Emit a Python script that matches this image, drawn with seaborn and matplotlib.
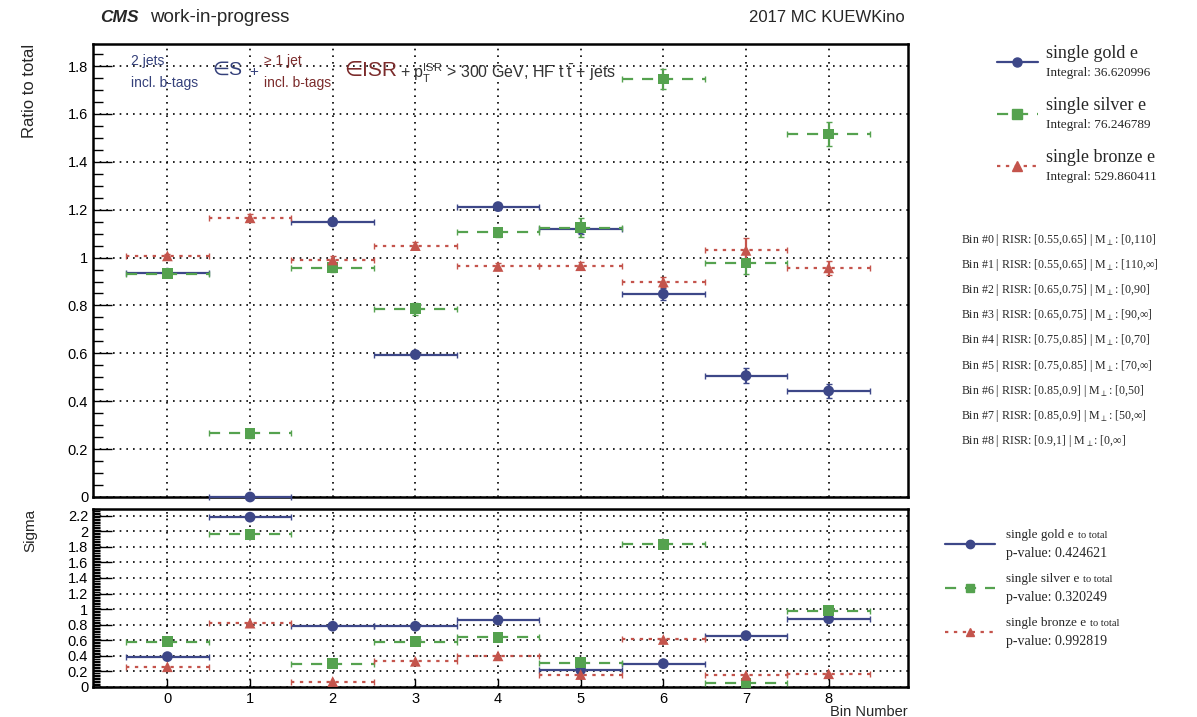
import numpy as np
import pandas as pd
import seaborn as sns
import matplotlib
matplotlib.use("Agg")
import matplotlib.pyplot as plt
from matplotlib.ticker import MultipleLocator, FuncFormatter
from matplotlib.lines import Line2D

# ---------------- data ----------------
bins = [0, 1, 2, 3, 4, 5, 6, 7, 8]
series_names = ["single gold e", "single silver e", "single bronze e"]
integrals = ["36.620996", "76.246789", "529.860411"]
pvalues = ["0.424621", "0.320249", "0.992819"]

ratio_gold = [0.935, 0.0, 1.149, 0.595, 1.213, 1.12, 0.848, 0.507, 0.443]
ratio_silver = [0.932, 0.266, 0.958, 0.786, 1.105, 1.125, 1.746, 0.977, 1.516]
ratio_bronze = [1.007, 1.166, 0.99, 1.05, 0.963, 0.966, 0.898, 1.03, 0.957]
err_gold = [0.01, 0.0, 0.015, 0.015, 0.015, 0.02, 0.025, 0.03, 0.03]
err_silver = [0.015, 0.02, 0.02, 0.025, 0.02, 0.04, 0.04, 0.045, 0.05]
err_bronze = [0.01, 0.015, 0.015, 0.015, 0.015, 0.015, 0.02, 0.05, 0.03]

sigma_gold = [0.39, 2.18, 0.78, 0.78, 0.86, 0.22, 0.30, 0.66, 0.875]
sigma_silver = [0.58, 1.96, 0.30, 0.58, 0.64, 0.31, 1.83, 0.05, 0.98]
sigma_bronze = [0.26, 0.82, 0.07, 0.33, 0.40, 0.16, 0.61, 0.15, 0.17]

bin_labels = [
    ("0", "[0.55,0.65]", "[0,110]"),
    ("1", "[0.55,0.65]", "[110,\u221e]"),
    ("2", "[0.65,0.75]", "[0,90]"),
    ("3", "[0.65,0.75]", "[90,\u221e]"),
    ("4", "[0.75,0.85]", "[0,70]"),
    ("5", "[0.75,0.85]", "[70,\u221e]"),
    ("6", "[0.85,0.9]", "[0,50]"),
    ("7", "[0.85,0.9]", "[50,\u221e]"),
    ("8", "[0.9,1]", "[0,\u221e]"),
]

# ---------------- style ----------------
sns.set_theme(style="ticks")
plt.rcParams['font.family'] = ['Liberation Sans', 'DejaVu Sans']
plt.rcParams['mathtext.fontset'] = 'custom'
plt.rcParams['mathtext.rm'] = 'Liberation Sans'
plt.rcParams['mathtext.it'] = 'Liberation Sans:italic'
plt.rcParams['mathtext.bf'] = 'Liberation Sans:bold'
plt.rcParams['mathtext.fallback'] = 'stixsans'
SERIF = ['Liberation Serif', 'DejaVu Serif']

colors = ["#3d4788", "#55a24f", "#c4544c"]
markers = ["o", "s", "^"]
lstyles = ["-", (0, (5, 4)), (0, (1.5, 2.5))]

W, H = 1197, 717
fig = plt.figure(figsize=(W / 100, H / 100), dpi=100)

def fx(px):
    return px / W

def fy(py):
    return 1 - py / H

ax1 = fig.add_axes([fx(93), fy(497), fx(908) - fx(93), fy(44) - fy(497)])
ax2 = fig.add_axes([fx(93), fy(687), fx(908) - fx(93), fy(509) - fy(687)])

df_ratio = pd.DataFrame({
    "bin": bins * 3,
    "value": ratio_gold + ratio_silver + ratio_bronze,
    "err": err_gold + err_silver + err_bronze,
    "series": sum([[n] * len(bins) for n in series_names], []),
})
df_sigma = pd.DataFrame({
    "bin": bins * 3,
    "value": sigma_gold + sigma_silver + sigma_bronze,
    "series": sum([[n] * len(bins) for n in series_names], []),
})

def draw(ax, df, with_err):
    for i, name in enumerate(series_names):
        d = df[df.series == name]
        yerr = d["err"].values if with_err else None
        eb = ax.errorbar(d["bin"], d["value"], xerr=0.5, yerr=yerr, fmt="none",
                         ecolor=colors[i], elinewidth=1.6, capsize=2, capthick=1.0,
                         zorder=3, clip_on=False)
        eb[2][0].set_linestyle(lstyles[i])
        if with_err:
            eb[2][1].set_linestyle("-")
    pal = dict(zip(series_names, colors))
    mk = dict(zip(series_names, markers))
    sns.scatterplot(data=df, x="bin", y="value", hue="series", style="series",
                    palette=pal, markers=mk, s=60, edgecolor="none", ax=ax,
                    legend=False, zorder=4, clip_on=False)

fmt = FuncFormatter(lambda v, p: "%g" % round(v, 3))
draw(ax1, df_ratio, True)
draw(ax2, df_sigma, False)

for ax in (ax1, ax2):
    ax.set_xlim(-0.9, 8.96)
    ax.xaxis.set_major_locator(MultipleLocator(1))
    ax.grid(True, which="major", color="black", linestyle=(0, (1, 3)), linewidth=1.2)
    ax.tick_params(axis="both", which="both", direction="in", colors="black",
                   labelsize=10.5, width=1.0)
    ax.tick_params(axis="y", which="major", length=14)
    ax.tick_params(axis="y", which="minor", length=7)
    ax.tick_params(axis="x", which="major", length=6)
    for s in ax.spines.values():
        s.set_linewidth(1.8)
        s.set_color("black")
    ax.set_xlabel("")
    ax.set_ylabel("")
    ax.yaxis.set_major_formatter(fmt)
    ax.set_axisbelow(True)

ax1.set_ylim(0, 1.892)
ax1.yaxis.set_major_locator(MultipleLocator(0.2))
ax1.yaxis.set_minor_locator(MultipleLocator(0.05))
ax1.tick_params(axis="x", labelbottom=False, length=0)

ax2.set_ylim(0, 2.285)
ax2.yaxis.set_major_locator(MultipleLocator(0.2))
ax2.yaxis.set_minor_locator(MultipleLocator(0.02))
ax2.tick_params(axis="y", which="minor", length=5)
ax2.xaxis.set_major_formatter(FuncFormatter(lambda v, p: "%d" % v))

# axis titles
fig.text(fx(30), fy(44), "Ratio to total", rotation=90, ha="center", va="top", fontsize=12)
fig.text(fx(30), fy(509), "Sigma", rotation=90, ha="center", va="top", fontsize=11)
fig.text(fx(908), fy(712), "Bin Number", ha="right", va="center", fontsize=10.5)

# header
fig.text(fx(100), fy(18), "CMS", fontsize=12.5, fontweight="bold", fontstyle="italic", va="center")
fig.text(fx(150), fy(18), "work-in-progress", fontsize=13.5, va="center")
fig.text(fx(905), fy(18), "2017 MC KUEWKino", fontsize=12, va="center", ha="right")

# annotation inside top panel
c_s = "#34407a"
c_isr = "#7b2b2b"
fig.text(fx(131), fy(61), "2 jets", color=c_s, fontsize=10, va="center")
fig.text(fx(131), fy(83), "incl. b-tags", color=c_s, fontsize=10, va="center")
fig.text(fx(212), fy(70), "\u2208S", color=c_s, fontsize=14, va="center")
fig.text(fx(249), fy(72), "+", color=c_s, fontsize=11, va="center")
fig.text(fx(264), fy(61), "\u2265 1 jet", color=c_isr, fontsize=10, va="center")
fig.text(fx(264), fy(83), "incl. b-tags", color=c_isr, fontsize=10, va="center")
fig.text(fx(344), fy(70), "\u2208ISR", color=c_isr, fontsize=15, va="center")
fig.text(fx(400), fy(73), r"+ $\mathrm{p_{T}^{ISR}}$ > 300 GeV, HF $\mathrm{t\ \bar{t}}$ + jets",
         color="#333333", fontsize=11.5, va="center")

# top-right legend
for i, name in enumerate(series_names):
    yy = 62 + i * 52
    ln = Line2D([fx(997), fx(1038)], [fy(yy), fy(yy)], transform=fig.transFigure,
                color=colors[i], linestyle=lstyles[i], linewidth=1.6)
    fig.add_artist(ln)
    mk = Line2D([fx(1017)], [fy(yy)], transform=fig.transFigure, color=colors[i],
                marker=markers[i], markersize=6.5, linestyle="none")
    fig.add_artist(mk)
    fig.text(fx(1046), fy(yy - 9), name, family=SERIF, fontsize=13, va="center")
    fig.text(fx(1046), fy(yy + 11), "Integral: " + integrals[i], family=SERIF, fontsize=9.5, va="center")

# bin list
for j, (b, r, m) in enumerate(bin_labels):
    yy = 240 + j * 25.1
    fig.text(fx(961), fy(yy), "Bin #%s | RISR: %s | M$_{\\perp}$: %s" % (b, r, m),
             family=SERIF, fontsize=8.6, va="center")

# bottom legend
fig.canvas.draw()
renderer = fig.canvas.get_renderer()
for i, name in enumerate(series_names):
    yy = 544 + i * 44
    ln = Line2D([fx(945), fx(995)], [fy(yy), fy(yy)], transform=fig.transFigure,
                color=colors[i], linestyle=lstyles[i], linewidth=1.6)
    fig.add_artist(ln)
    mk = Line2D([fx(970)], [fy(yy)], transform=fig.transFigure, color=colors[i],
                marker=markers[i], markersize=6, linestyle="none")
    fig.add_artist(mk)
    t = fig.text(fx(1006), fy(yy - 9), name, family=SERIF, fontsize=9.5, va="center")
    bb = t.get_window_extent(renderer)
    fig.text(fx(bb.x1 + 4), fy(yy - 8), "to total", family=SERIF, fontsize=7.5, va="center")
    fig.text(fx(1006), fy(yy + 10), "p-value: " + pvalues[i], family=SERIF, fontsize=10, va="center")

fig.savefig("out.png", dpi=100, facecolor="white")
